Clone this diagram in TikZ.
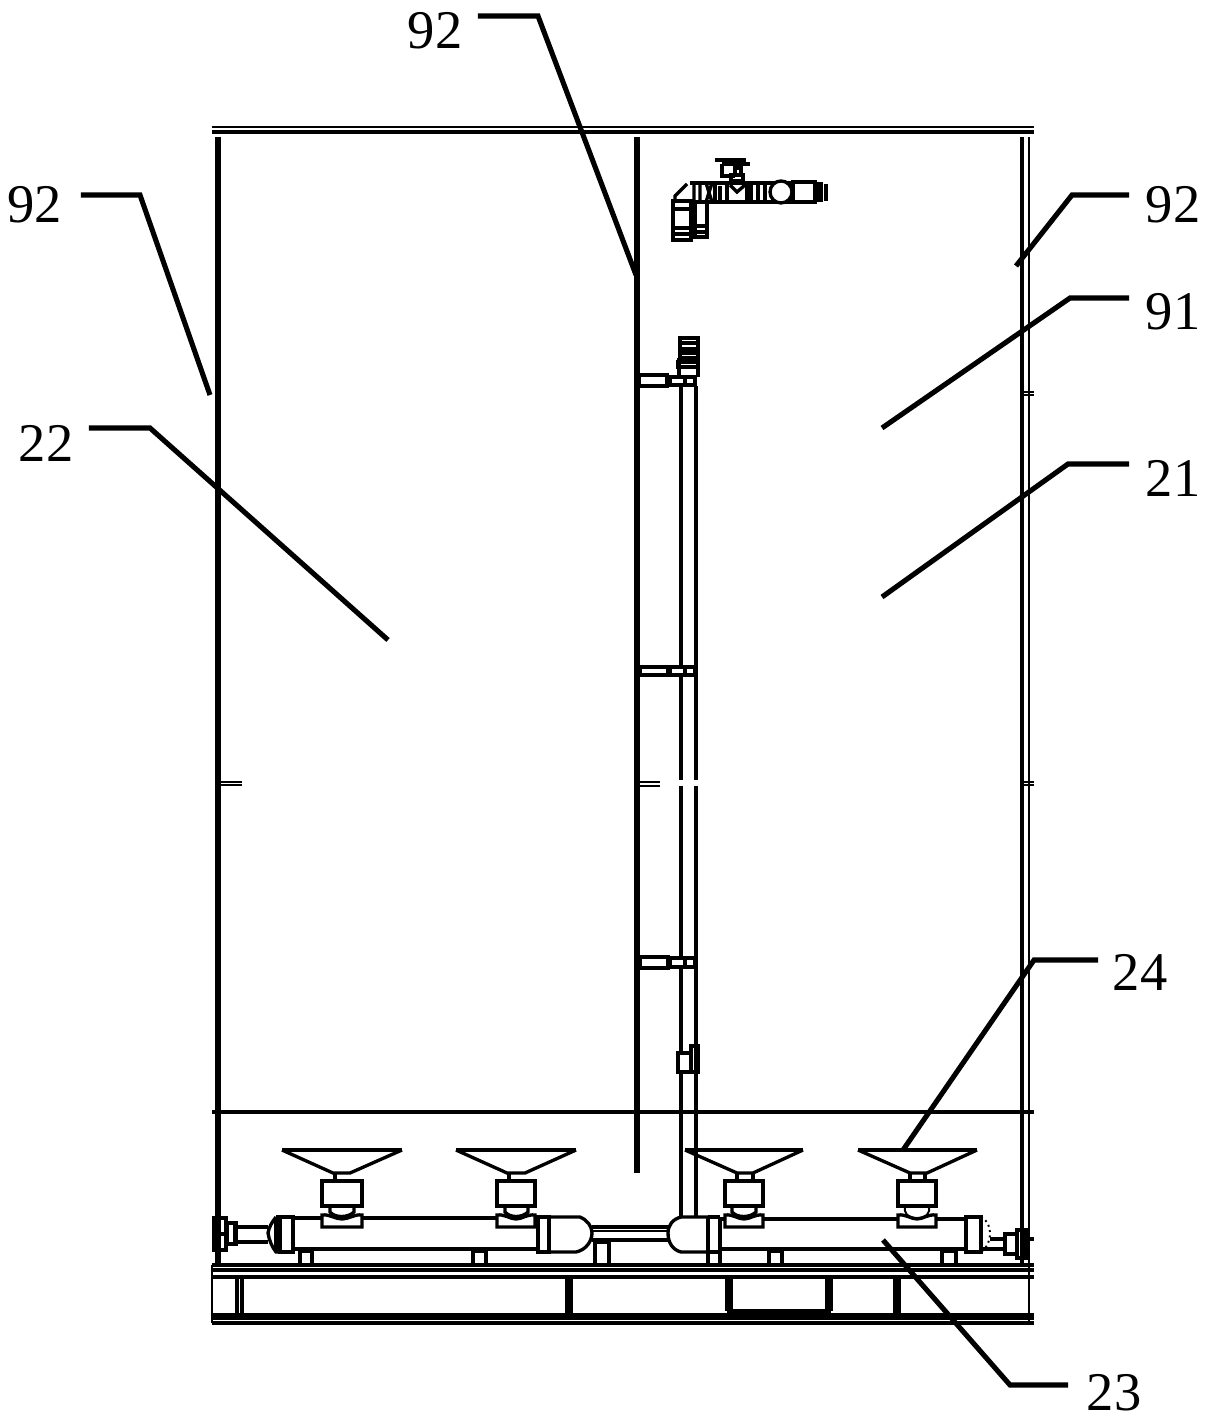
\documentclass[tikz,border=0pt]{standalone}
\usepackage{fontspec}
\setmainfont{Liberation Serif}
\tikzset{
  wall/.style={line width=1.7pt},
  part/.style={line width=0.95pt},
  fine/.style={line width=0.55pt},
  heavy/.style={line width=1.2pt},
  leader/.style={line width=1.45pt},
  callout/.style={font=\fontsize{15.5}{15.5}\selectfont,inner sep=0pt}
}
\begin{document}
\begin{tikzpicture}[x=0.01cm,y=-0.01cm]
    \useasboundingbox (0,0) rectangle (1207,1422);
    % frame
    \draw[fine] (212,127)--(1034,127);
    \draw[heavy] (212,132)--(1034,132);
    \draw[wall] (218,137)--(218,1265);
    \draw[wall] (637,137)--(637,1173);
    \draw[line width=1.1pt] (1022,137)--(1022,1265);
    \draw[fine] (1029,137)--(1029,1323);
    \draw[heavy] (212,1112)--(1034,1112);
    \draw[fine] (220,782)--(242,782) (220,785)--(242,785);
    \draw[fine] (640,782)--(660,782) (640,786)--(660,786);
    \draw[fine] (1022,392)--(1034,392) (1022,395)--(1034,395);
    \draw[fine] (1022,782)--(1034,782) (1022,785)--(1034,785);
    % base
    \draw[part] (212,1265)--(1034,1265);
    \draw[part] (212,1270)--(1034,1270);
    \draw[part] (212,1277)--(1034,1277);
    \draw[part] (212,1315)--(1034,1315);
    \draw[part] (212,1318)--(1034,1318);
    \draw[heavy] (212,1323)--(1034,1323);
    \draw[fine] (212,1265)--(212,1323);
    \draw[part] (237,1277)--(237,1316) (242,1277)--(242,1316);
    \draw[part] (567,1277)--(567,1316) (571,1277)--(571,1316);
    \draw[part] (727,1277)--(727,1311) (731,1277)--(731,1311) (827,1277)--(827,1311) (831,1277)--(831,1311);
    \draw[heavy] (727,1311)--(831,1311);
    \draw[part] (895,1277)--(895,1316) (899,1277)--(899,1316);
    % riser
    \draw[part] (681,386)--(681,780) (681,786)--(681,1217);
    \draw[part] (696,386)--(696,780) (696,786)--(696,1217);
    \draw[part,fill=white] (639,375) rectangle (667,386);
    \draw[part,fill=white] (670,377) rectangle (695,385);
    \draw[part,fill=white] (640,667) rectangle (668,675);
    \draw[part,fill=white] (670,667) rectangle (695,675);
    \draw[heavy,fill=white] (640,957) rectangle (668,968);
    \draw[part,fill=white] (670,958) rectangle (695,967);
    \draw[part] (685,377)--(685,385) (685,667)--(685,675) (685,958)--(685,967);
    \draw[heavy,fill=white] (678,1053) rectangle (691,1072);
    \draw[part] (691,1046) rectangle (698,1072);
    % riser top fittings
    \draw[heavy] (680,338) rectangle (698,358);
    \draw[heavy] (680,343)--(698,343) (680,349)--(698,349) (680,353)--(698,353);
    \draw[heavy] (678,362) rectangle (698,367);
    \draw[part] (679,358)--(679,377) (698,358)--(698,377);
    % top valve
    \draw[heavy] (715,160)--(746,160);
    \draw[heavy] (722,164)--(750,164);
    \draw[part] (722,164)--(722,176)--(735,176);
    \draw[part] (735,168) rectangle (741,175);
    \draw[part] (731,175) rectangle (743,181);
    \draw[part] (690,183)--(793,183);
    \draw[part] (690,202)--(793,202);
    \draw[part] (727,183)--(727,202) (747,183)--(747,202);
    \draw[part] (730,185)--(737,192)--(745,185);
    \draw[part] (694,183)--(694,202) (700,183)--(700,202) (706,183)--(712,202) (712,183)--(706,202);
    \draw[heavy] (715,183)--(715,202) (720,186)--(720,202);
    \draw[heavy] (751,183)--(751,202);
    \draw[part] (758,183)--(758,202) (765,183)--(765,202);
    \draw[part,fill=white] (781,192) circle (11);
    \draw[part,fill=white] (793,182) rectangle (815,202);
    \draw[heavy] (817,182)--(817,202) (821,182)--(821,202) (826,184)--(826,201);
    \draw[part] (675,200)--(675,196)--(687,184);
    \draw[part] (673,201) rectangle (691,240);
    \draw[part] (673,209)--(691,209) (673,228)--(691,228);
    \draw[heavy] (673,234)--(691,234) (674,240)--(691,240);
    \draw[part] (695,202) rectangle (707,237);
    \draw[part] (695,226)--(707,226) (695,232)--(707,232);
    % left tube
    \draw[part] (293,1218)--(322,1218) (362,1218)--(497,1218) (535,1218)--(538,1218);
    \draw[part] (293,1249)--(538,1249);
    \draw[part] (280,1217)--(293,1217)--(293,1252)--(280,1252)--cycle;
    \draw[part] (276,1217) .. controls (272,1222) and (269,1227) .. (268,1233) .. controls (269,1240) and (272,1247) .. (276,1252)--(280,1252);
    \draw[part] (276,1217)--(280,1217) (276,1217)--(276,1252);
    \draw[part] (268,1227)--(235,1227)--(235,1242)--(268,1242);
    \draw[part] (227,1223) rectangle (236,1244);
    \draw[part] (214,1218) rectangle (226,1250);
    \draw[part] (214,1234)--(226,1234);
    \draw[part] (538,1217) rectangle (549,1252);
    \draw[part] (549,1217)--(580,1217) .. controls (587,1220) and (592,1226) .. (592,1233) .. controls (592,1241) and (586,1250) .. (576,1252)--(549,1252);
    \draw[part] (300,1265)--(300,1251)--(312,1251)--(312,1265);
    \draw[part] (473,1265)--(473,1251)--(486,1251)--(486,1265);
    \draw[part] (595,1265)--(595,1242)--(609,1242)--(609,1265);
    % link pipe
    \draw[part] (592,1227)--(668,1227);
    \draw[fine] (592,1231)--(668,1231);
    \draw[heavy] (592,1240)--(668,1240);
    % right tube
    \draw[part] (681,1217)--(708,1217) (668,1233) .. controls (668,1225) and (673,1219) .. (681,1217);
    \draw[part] (668,1233) .. controls (668,1243) and (673,1250) .. (681,1252)--(708,1252);
    \draw[part] (708,1217)--(708,1265) (720,1217)--(720,1265);
    \draw[part] (708,1217)--(720,1217) (708,1252)--(720,1252);
    \draw[part] (720,1219)--(725,1219) (763,1219)--(898,1219) (936,1219)--(966,1219);
    \draw[part] (720,1249)--(966,1249);
    \draw[heavy] (966,1217) rectangle (981,1252);
    \draw[fine,densely dotted] (981,1217) .. controls (987,1220) and (990,1226) .. (990,1233) .. controls (990,1241) and (987,1248) .. (981,1252);
    \draw[part] (990,1239)--(1003,1239) (983,1249)--(1003,1249);
    \draw[heavy] (1005,1234) rectangle (1017,1254);
    \draw[part] (1017,1230) rectangle (1026,1258);
    \draw[part] (1026,1239)--(1034,1239);
    \draw[part] (769,1265)--(769,1251)--(782,1251)--(782,1265);
    \draw[part] (942,1265)--(942,1251)--(956,1251)--(956,1265);
    % hoppers
    \draw[part] (282,1150)--(333,1173)--(350,1173)--(402,1150);
    \draw[line width=1.3pt] (282,1150)--(402,1150);
    \draw[part] (335,1173)--(335,1181);
    \draw[heavy] (322,1181) rectangle (362,1206);
    \draw[part] (330,1206)--(330,1212) .. controls (335,1218) and (348,1218) .. (354,1212)--(354,1206);
    \draw[part] (322,1215) .. controls (330,1214) and (335,1219) .. (342,1219) .. controls (349,1219) and (354,1214) .. (362,1215)--(362,1227)--(322,1227)--cycle;
    \draw[part] (456,1150)--(507,1173)--(525,1173)--(576,1150);
    \draw[line width=1.3pt] (456,1150)--(576,1150);
    \draw[part] (509,1173)--(509,1181);
    \draw[heavy] (497,1181) rectangle (535,1206);
    \draw[part] (505,1206)--(505,1212) .. controls (510,1218) and (522,1218) .. (528,1212)--(528,1206);
    \draw[part] (497,1215) .. controls (505,1214) and (510,1219) .. (516,1219) .. controls (522,1219) and (527,1214) .. (535,1215)--(535,1227)--(497,1227)--cycle;
    \draw[part] (685,1150)--(737,1173)--(753,1173)--(803,1150);
    \draw[line width=1.3pt] (685,1150)--(803,1150);
    \draw[part] (737,1173)--(737,1181) (753,1173)--(753,1181);
    \draw[heavy] (725,1181) rectangle (763,1206);
    \draw[part] (732,1206)--(732,1212) .. controls (737,1218) and (750,1218) .. (756,1212)--(756,1206);
    \draw[part] (725,1215) .. controls (733,1214) and (738,1219) .. (744,1219) .. controls (750,1219) and (755,1214) .. (763,1215)--(763,1227)--(725,1227)--cycle;
    \draw[part] (858,1150)--(910,1173)--(927,1173)--(977,1150);
    \draw[line width=1.3pt] (858,1150)--(977,1150);
    \draw[part] (910,1173)--(910,1181) (925,1173)--(925,1181);
    \draw[heavy] (898,1181) rectangle (936,1206);
    \draw[fine] (906,1206) .. controls (902,1212) and (908,1218) .. (917,1218) .. controls (926,1218) and (932,1212) .. (928,1206);
    \draw[part] (898,1215) .. controls (906,1214) and (911,1219) .. (917,1219) .. controls (923,1219) and (928,1214) .. (936,1215)--(936,1227)--(898,1227)--cycle;
    % callouts
    \node[callout] (labeltop) at (435,31) {92};
    \node[callout] (labelleft) at (35,205) {92};
    \node[callout] (labelright) at (1173,205) {92};
    \node[callout] (labelninetyone) at (1173,312) {91};
    \node[callout] (labelflow) at (1173,478) {21};
    \node[callout] (labelreturn) at (46,443) {22};
    \node[callout] (labelhopper) at (1140,972) {24};
    \node[callout] (labeltube) at (1114,1393) {23};
    \coordinate (tiptop) at (636,275);
    \coordinate (tipleft) at (210,395);
    \coordinate (tipright) at (1016,266);
    \coordinate (tipninetyone) at (882,428);
    \coordinate (tipflow) at (882,597);
    \coordinate (tipreturn) at (388,640);
    \coordinate (tiphopper) at (903,1150);
    \coordinate (tiptube) at (883,1240);
    \draw[leader] (labeltop.east |- 0,16) ++(15,0)--(538,16)--(tiptop);
    \draw[leader] (labelleft.east |- 0,195) ++(18,0)--(140,195)--(tipleft);
    \draw[leader] (labelright.west |- 0,195) ++(-16,0)--(1072,195)--(tipright);
    \draw[leader] (labelninetyone.west |- 0,298) ++(-16,0)--(1070,298)--(tipninetyone);
    \draw[leader] (labelflow.west |- 0,464) ++(-16,0)--(1068,464)--(tipflow);
    \draw[leader] (labelreturn.east |- 0,428) ++(15,0)--(150,428)--(tipreturn);
    \draw[leader] (labelhopper.west |- 0,960) ++(-14,0)--(1034,960)--(tiphopper);
    \draw[leader] (labeltube.west |- 0,1385) ++(-18,0)--(1010,1385)--(tiptube);
\end{tikzpicture}
\end{document}
